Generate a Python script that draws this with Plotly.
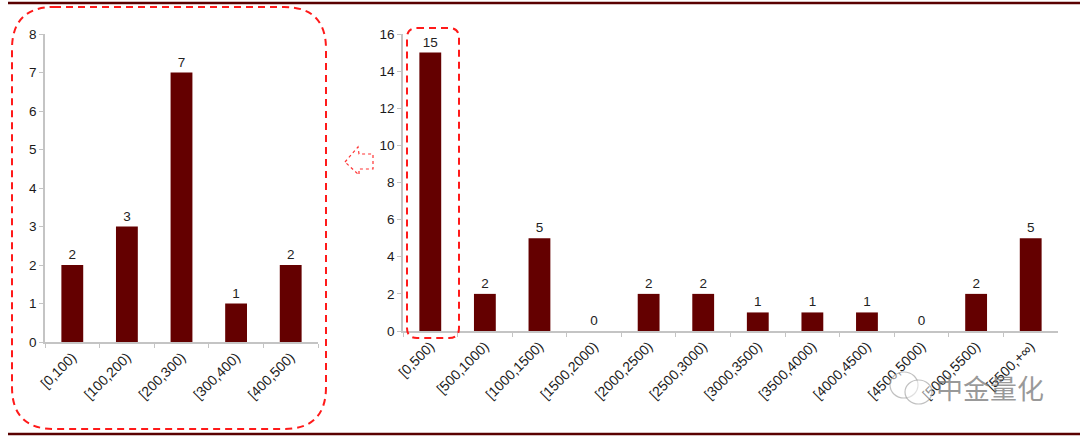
import plotly.graph_objects as go

W, H = 1080, 438

left_cats = ["[0,100)", "[100,200)", "[200,300)", "[300,400)", "[400,500)"]
left_vals = [2, 3, 7, 1, 2]

right_cats = ["[0,500)", "[500,1000)", "[1000,1500)", "[1500,2000)", "[2000,2500)",
              "[2500,3000)", "[3000,3500)", "[3500,4000)", "[4000,4500)",
              "[4500,5000)", "[5000,5500)", "[5500,+\u221e)"]
right_vals = [15, 2, 5, 0, 2, 2, 1, 1, 1, 0, 2, 5]

BAR = "#640000"
FONT = "Liberation Sans, Arial, sans-serif"


def px(x):
    return x / W


def py(y):
    return 1 - y / H


def rounded_rect(x0, y0, x1, y1, r):
    pts = [
        f"M {px(x0 + r)} {py(y0)}",
        f"L {px(x1 - r)} {py(y0)}",
        f"Q {px(x1)} {py(y0)} {px(x1)} {py(y0 + r)}",
        f"L {px(x1)} {py(y1 - r)}",
        f"Q {px(x1)} {py(y1)} {px(x1 - r)} {py(y1)}",
        f"L {px(x0 + r)} {py(y1)}",
        f"Q {px(x0)} {py(y1)} {px(x0)} {py(y1 - r)}",
        f"L {px(x0)} {py(y0 + r)}",
        f"Q {px(x0)} {py(y0)} {px(x0 + r)} {py(y0)}",
        "Z",
    ]
    return " ".join(pts)


fig = go.Figure()
fig.add_trace(go.Bar(
    x=left_cats, y=left_vals, xaxis="x", yaxis="y",
    marker=dict(color=BAR, line=dict(width=0)),
    text=[str(v) for v in left_vals], textposition="outside",
    textfont=dict(size=13.5, color="#222222", family=FONT), cliponaxis=False,
))
fig.add_trace(go.Bar(
    x=right_cats, y=right_vals, xaxis="x2", yaxis="y2",
    marker=dict(color=BAR, line=dict(width=0)),
    text=[str(v) for v in right_vals], textposition="outside",
    textfont=dict(size=13.5, color="#222222", family=FONT), cliponaxis=False,
))

axis_common = dict(showline=True, linecolor="#c4c4c4", linewidth=1.5, showgrid=False,
                   zeroline=False, ticks="outside", ticklen=4, tickcolor="#c4c4c4",
                   automargin=False)

fig.update_layout(
    width=W, height=H,
    margin=dict(l=0, r=0, t=0, b=0, pad=0, autoexpand=False),
    paper_bgcolor="white", plot_bgcolor="white",
    showlegend=False, bargap=0.6,
    font=dict(family=FONT, color="#1a1a1a"),
    xaxis=dict(domain=[px(45), px(318)], anchor="y", type="category",
               tickangle=-45, tickson="boundaries",
               tickfont=dict(size=14, color="#1a1a1a"), **axis_common),
    yaxis=dict(domain=[py(342), py(34)], anchor="x", range=[0, 8], dtick=1,
               tickfont=dict(size=13.5, color="#1a1a1a"), **axis_common),
    xaxis2=dict(domain=[px(403), px(1058)], anchor="y2", type="category",
                tickangle=-45, tickson="boundaries",
                tickfont=dict(size=14, color="#1a1a1a"), **axis_common),
    yaxis2=dict(domain=[py(331), py(34)], anchor="x2", range=[0, 16], dtick=2,
                tickfont=dict(size=13.5, color="#1a1a1a"), **axis_common),
)

shapes = []
# top and bottom rules
shapes.append(dict(type="line", xref="paper", yref="paper", x0=px(8), x1=1, y0=py(3), y1=py(3),
                   line=dict(color="#5a0000", width=2.5)))
shapes.append(dict(type="line", xref="paper", yref="paper", x0=px(8), x1=1, y0=py(434), y1=py(434),
                   line=dict(color="#5a0000", width=2.5)))
# dashed highlight boxes
shapes.append(dict(type="path", xref="paper", yref="paper", path=rounded_rect(12, 7, 326, 429, 42),
                   line=dict(color="#ff1a1a", width=2, dash="7px,5px")))
shapes.append(dict(type="path", xref="paper", yref="paper", path=rounded_rect(407, 28, 459, 338, 10),
                   line=dict(color="#ff1a1a", width=2, dash="7px,5px")))
# small dashed arrow
arrow_pts = [(345, 162), (358, 147), (359, 154), (373, 154), (373, 169), (359, 169), (359, 175)]
arrow_path = "M " + " L ".join(f"{px(x)} {py(y)}" for x, y in arrow_pts) + " Z"
shapes.append(dict(type="path", xref="paper", yref="paper", path=arrow_path,
                   line=dict(color="#ff3333", width=1.2, dash="3px,3px")))
# watermark icon circles
shapes.append(dict(type="circle", xref="paper", yref="paper", x0=px(890), x1=px(918), y0=py(398), y1=py(372),
                   line=dict(color="rgba(150,150,150,0.6)", width=1.2), fillcolor="rgba(255,255,255,0.5)"))
shapes.append(dict(type="circle", xref="paper", yref="paper", x0=px(905), x1=px(932), y0=py(404), y1=py(380),
                   line=dict(color="rgba(150,150,150,0.6)", width=1.2), fillcolor="rgba(255,255,255,0.5)"))
fig.update_layout(shapes=shapes)

fig.add_annotation(xref="paper", yref="paper", x=px(990), y=py(387), text="中金量化",
                   showarrow=False, font=dict(size=27, color="rgba(120,120,120,0.75)",
                                              family="Noto Sans CJK SC"),
                   xanchor="center", yanchor="middle")

fig.write_html("out.html", config={"displayModeBar": False},
               post_script="document.body.style.margin='0';document.body.style.overflow='hidden';")
